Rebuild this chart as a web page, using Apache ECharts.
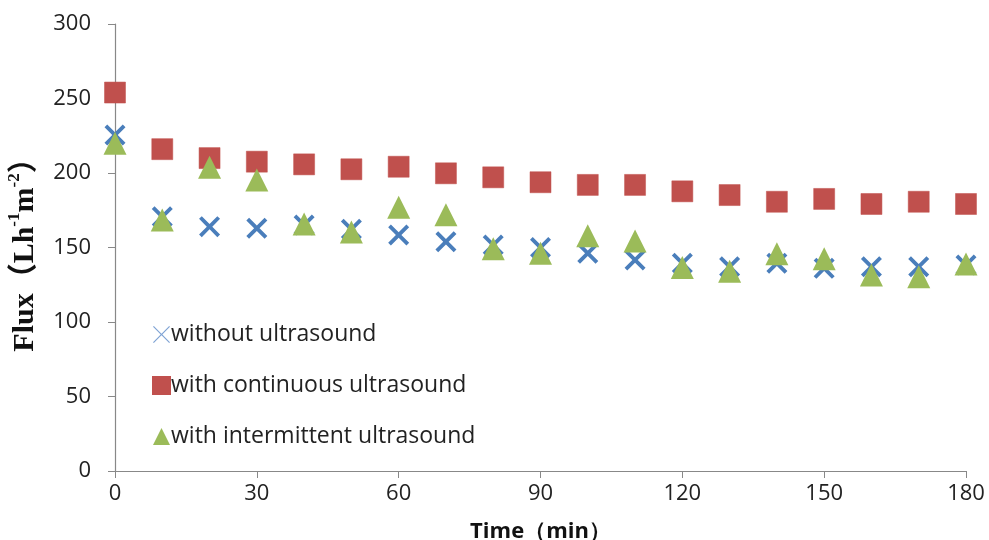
<!DOCTYPE html>
<html><head><meta charset="utf-8">
<script src="https://cdn.jsdelivr.net/npm/echarts@6/dist/echarts.min.js"></script>
<style>html,body{margin:0;padding:0;background:#fff}#c{width:989px;height:540px}</style>
</head><body><div id="c"></div>
<script>
const times = [0,10,20,30,40,50,60,70,80,90,100,110,120,130,140,150,160,170,180];
const withoutUS = [225.5,170.7,164,162.9,165.1,162.2,158.4,153.9,151.7,150,146.1,141.6,139.4,137.1,139.4,136,137.1,137.1,138.3];
const continuousUS = [254,216,210,207.6,205.8,202.5,204.2,199.8,197.1,193.8,192,192,187.7,185.2,180.7,182.6,179.2,180.7,179.2];
const intermittentUS = [220,168.5,203.8,195.3,165.8,160.4,177,171.9,149.2,146.1,157.9,154.4,136.5,134,145.8,142.5,131.5,130.4,138.9];
const seriesNames = ['without ultrasound','with continuous ultrasound','with intermittent ultrasound'];

const pair = arr => times.map((t,i)=>[t,arr[i]]);
const xPath = 'path://M0,1.3L1.3,0L5,3.7L8.7,0L10,1.3L6.3,5L10,8.7L8.7,10L5,6.3L1.3,10L0,8.7L3.7,5Z';
const labelFont = '"Open Sans", "Noto Sans", sans-serif';

const chart = echarts.init(document.getElementById('c'));
chart.setOption({
  animation:false,
  backgroundColor:'#fff',
  grid:{left:115,right:23,top:24,bottom:69,containLabel:false,outerBoundsMode:'none'},
  legend:{
    orient:'vertical', left:147, top:318, itemGap:28, itemWidth:17, itemHeight:17,
    textStyle:{fontSize:23, color:'#222', fontFamily:labelFont, padding:[0,0,0,-4]},
    data:[
      {name:seriesNames[0], icon:'path://M0,0.5L0.5,0L5,4.5L9.5,0L10,0.5L5.5,5L10,9.5L9.5,10L5,5.5L0.5,10L0,9.5L4.5,5Z', itemStyle:{color:'#7fa3d4'}},
      {name:seriesNames[1], icon:'rect'},
      {name:seriesNames[2], icon:'triangle'}
    ]
  },
  xAxis:{
    type:'value', min:0, max:180, interval:30,
    name:'Time（min）', nameLocation:'middle', nameGap:50,
    nameTextStyle:{fontSize:22, fontWeight:'bold', color:'#111', fontFamily:labelFont},
    axisLine:{lineStyle:{color:'#888', width:1.2}},
    axisTick:{show:true, length:7, lineStyle:{color:'#888'}},
    axisLabel:{fontSize:22, color:'#222', margin:12, fontFamily:labelFont},
    splitLine:{show:false}
  },
  yAxis:{
    type:'value', min:0, max:300, interval:50,
    name:'{b|Flux（Lh}{s|-1}{b|m}{s|-2}{b|）}', nameLocation:'middle', nameGap:75, nameRotate:90,
    nameTextStyle:{
      rich:{
        b:{fontSize:30, fontWeight:'bold', fontFamily:'"Liberation Serif", "Noto Sans CJK SC", serif', color:'#111', lineHeight:34, verticalAlign:'bottom'},
        s:{fontSize:17, fontWeight:'bold', fontFamily:'"Liberation Serif", serif', color:'#111', lineHeight:34, verticalAlign:'top'}
      }
    },
    axisLine:{show:true, lineStyle:{color:'#888', width:1.2}},
    axisTick:{show:true, length:7, lineStyle:{color:'#888'}},
    axisLabel:{fontSize:22, color:'#222', margin:24, fontFamily:labelFont},
    splitLine:{show:false}
  },
  series:[
    {name:seriesNames[0], type:'scatter', data:pair(withoutUS), symbol:xPath, symbolSize:21, itemStyle:{color:'#4a7ebb', opacity:1}, z:3},
    {name:seriesNames[1], type:'scatter', data:pair(continuousUS), symbol:'rect', symbolSize:21, itemStyle:{color:'#c0504d', opacity:1, borderColor:'#c0504d', borderWidth:0.5}, z:2},
    {name:seriesNames[2], type:'scatter', data:pair(intermittentUS), symbol:'triangle', symbolSize:[23,23], itemStyle:{color:'#9bbb59', opacity:1}, z:4}
  ]
});
</script>
</body></html>
